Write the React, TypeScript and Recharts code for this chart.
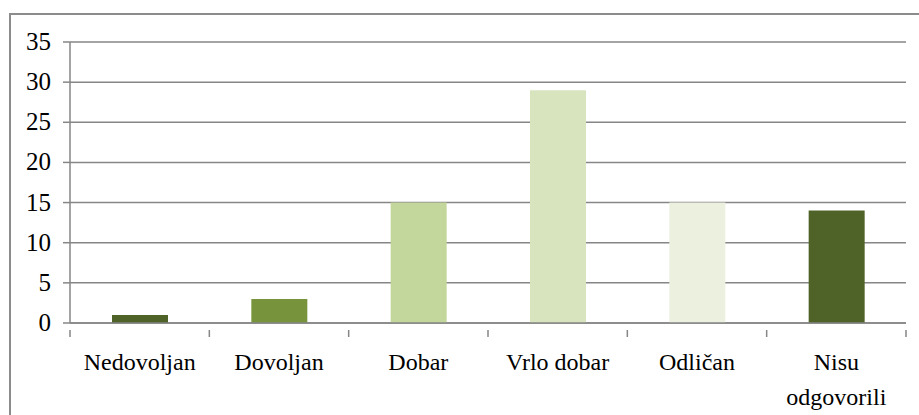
import React from "react";
import { BarChart, Bar, XAxis, YAxis, CartesianGrid, Cell } from "recharts";

const categories = ["Nedovoljan", "Dovoljan", "Dobar", "Vrlo dobar", "Odličan", "Nisu odgovorili"];
const values = [1, 3, 15, 29, 15, 14];
const barColors = ["#4F6228", "#77933C", "#C3D69B", "#D7E4BD", "#EBF1DE", "#4F6228"];
const yTicks = [0, 5, 10, 15, 20, 25, 30, 35];

const data = categories.map((name, i) => ({ name, value: values[i] }));

const CHART_W = 919;
const CHART_H = 415;
const MARGIN = { top: 42, right: 13, left: 10, bottom: 12 };
const Y_AXIS_W = 60;
const PLOT_W = CHART_W - MARGIN.left - MARGIN.right - Y_AXIS_W;
const BAND = PLOT_W / categories.length;
const GRID = "#868686";
const FONT = '"Liberation Serif", "Times New Roman", serif';

const CategoryTick = (props: any) => {
    const { x, y, payload, index } = props;
    const label: string = payload.value;
    const lines = label.length > 12 ? label.split(" ") : [label];
    const left = x - BAND / 2;
    const right = x + BAND / 2;
    const axisY = y - 1;
    return (
        <g>
            <line x1={left} x2={left} y1={axisY} y2={axisY + 7} stroke={GRID} strokeWidth={1.5} />
            {index === categories.length - 1 && (
                <line x1={right} x2={right} y1={axisY} y2={axisY + 7} stroke={GRID} strokeWidth={1.5} />
            )}
            <text
                className="serif-label"
                x={x}
                y={axisY + 40}
                textAnchor="middle"
                fill="#000"
                fontSize={24}
                fontFamily={FONT}
                style={{ fontFamily: FONT }}
            >
                {lines.map((ln, i) => (
                    <tspan key={i} x={x} dy={i === 0 ? 0 : 35}>
                        {ln}
                    </tspan>
                ))}
            </text>
        </g>
    );
};

const ValueTick = (props: any) => {
    const { x, y, payload } = props;
    return (
        <text
            className="serif-label"
            x={x}
            y={y}
            dy={8}
            textAnchor="end"
            fill="#000"
            fontSize={25}
            fontFamily={FONT}
            style={{ fontFamily: FONT }}
        >
            {payload.value}
        </text>
    );
};

export default function App() {
    return (
        <div
            id="chart-box"
            style={{
                position: "absolute",
                left: 0,
                top: 0,
                width: CHART_W,
                height: CHART_H,
                overflow: "hidden",
                background: "#fff",
                fontFamily: FONT,
            }}
        >
            <style>{`#root #chart-box svg text.serif-label, #root #chart-box svg text.serif-label tspan { font-family: ${FONT} !important; }`}</style>
            <div
                style={{
                    position: "absolute",
                    left: 9,
                    top: 13,
                    width: 940,
                    height: 440,
                    border: "2px solid #8C8C8C",
                    boxSizing: "border-box",
                }}
            />
            <BarChart
                width={CHART_W}
                height={CHART_H}
                data={data}
                margin={MARGIN}
                barSize={56}
                style={{ position: "absolute", left: 0, top: 0, fontFamily: FONT }}
            >
                <CartesianGrid vertical={false} stroke={GRID} strokeWidth={1.5} />
                <XAxis
                    dataKey="name"
                    axisLine={{ stroke: GRID, strokeWidth: 1.5 }}
                    tickLine={false}
                    height={80}
                    interval={0}
                    tick={<CategoryTick />}
                />
                <YAxis
                    width={Y_AXIS_W}
                    domain={[0, 35]}
                    ticks={yTicks}
                    interval={0}
                    axisLine={{ stroke: GRID, strokeWidth: 1.5 }}
                    tickLine={{ stroke: GRID, strokeWidth: 1.5 }}
                    tickSize={7}
                    tickMargin={12}
                    tick={<ValueTick />}
                />
                <Bar dataKey="value" isAnimationActive={false}>
                    {data.map((d, i) => (
                        <Cell key={`cell-${i}`} fill={barColors[i]} />
                    ))}
                </Bar>
            </BarChart>
        </div>
    );
}
